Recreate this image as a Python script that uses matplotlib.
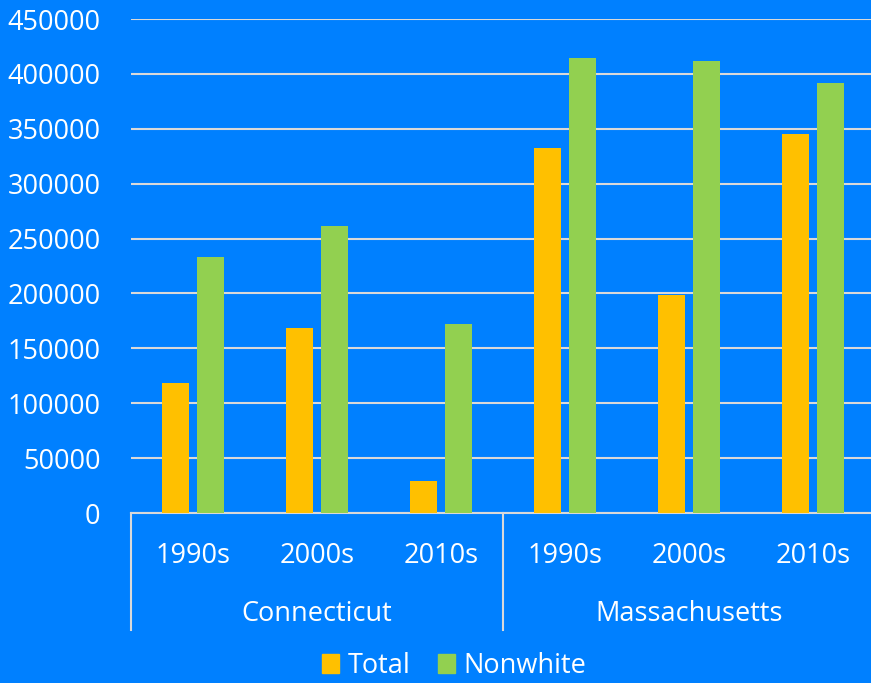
import matplotlib.pyplot as plt
from matplotlib.lines import Line2D
from matplotlib.patches import Patch
import matplotlib.transforms as mtransforms

plt.rcParams['font.family'] = ['Open Sans', 'DejaVu Sans']

states = ['Connecticut', 'Massachusetts']
periods = ['1990s', '2000s', '2010s', '1990s', '2000s', '2010s']
total = [118500, 168500, 29000, 332500, 198500, 345000]
nonwhite = [233500, 261500, 172000, 414500, 412000, 391500]

bg = '#0080FF'
c_total = '#FFC000'
c_nonwhite = '#92D050'
grid_c = '#D9D9D9'
fs = 19.5

fig = plt.figure(figsize=(8.71, 6.83), dpi=100, facecolor=bg)
# axes runs a bit past the right edge, like the cropped original
ax = fig.add_axes([131 / 871, 170 / 683, 744 / 871, 494 / 683], facecolor=bg)

x = list(range(len(periods)))
w = 0.225
off = 0.141
ax.bar([i - off for i in x], total, width=w, color=c_total, zorder=3)
ax.bar([i + off for i in x], nonwhite, width=w, color=c_nonwhite, zorder=3)

ax.set_xlim(-0.5, len(periods) - 0.5)
ax.set_ylim(0, 450000)
ax.set_yticks(range(0, 450001, 50000))
ax.yaxis.grid(True, color=grid_c, linewidth=1.5, zorder=0)
ax.set_axisbelow(True)

for s in ['top', 'right', 'left']:
    ax.spines[s].set_visible(False)
ax.spines['bottom'].set_color(grid_c)
ax.spines['bottom'].set_linewidth(1.5)

ax.tick_params(axis='y', length=0, pad=22, labelsize=fs, labelcolor='white')
ax.set_xticks(x)
ax.set_xticklabels(periods)
ax.tick_params(axis='x', length=0, pad=21, labelsize=fs, labelcolor='white')

# group labels and separators under the axis
trans = mtransforms.blended_transform_factory(ax.transData, ax.transAxes)
sep_bottom = -117 / 494
for g, name in enumerate(states):
    ax.text(g * 3 + 1, -101 / 494, name, transform=trans, ha='center', va='center',
            color='white', fontsize=fs)
for xs in [-0.5, 2.5, 5.5]:
    ax.add_line(Line2D([xs, xs], [0, sep_bottom], transform=trans, color=grid_c,
                       linewidth=1.5, clip_on=False))

handles = [Patch(color=c_total, label='Total'), Patch(color=c_nonwhite, label='Nonwhite')]
leg = fig.legend(handles=handles, loc='center', bbox_to_anchor=(454 / 871, 17 / 683), ncol=2,
                 frameon=False, fontsize=fs, handlelength=0.65, handleheight=0.65,
                 handletextpad=0.3, columnspacing=1.0, labelcolor='white')

fig.savefig('out.png', dpi=100, facecolor=bg)
